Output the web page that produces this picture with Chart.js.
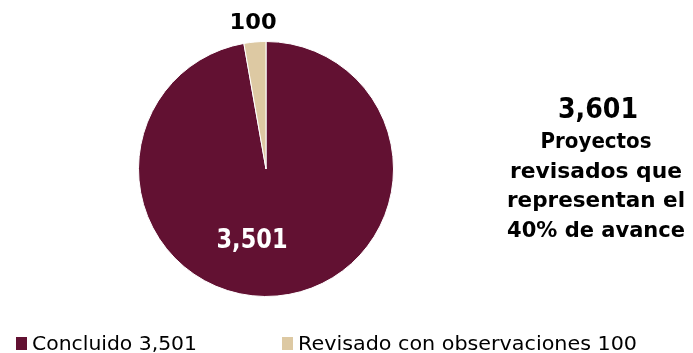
<!DOCTYPE html>
<html>
<head>
<meta charset="utf-8">
<script src="https://cdn.jsdelivr.net/npm/chart.js@4"></script>
<style>
  html, body { margin: 0; padding: 0; background: #fff; }
  #wrap { width: 693px; height: 353px; position: relative; }
</style>
</head>
<body>
<div id="wrap"><canvas id="pieChart" width="693" height="353"></canvas></div>
<script>
// data
const categories = ['Concluido', 'Revisado con observaciones'];
const values = [3501, 100];
const valueLabels = ['3,501', '100'];
const colors = ['#621132', '#DDC9A3'];
const totalLabel = '3,601';
const sideText = ['Proyectos', 'revisados que', 'representan el', '40% de avance'];

const FONT = '"DejaVu Sans", sans-serif';

// draw text stretched to a given width (the original face is wide)
function fitText(ctx, text, x, y, width, align) {
    const m = ctx.measureText(text).width;
    ctx.save();
    ctx.translate(x, y);
    ctx.scale(width / m, 1);
    ctx.textAlign = align || 'center';
    ctx.fillText(text, 0, 0);
    ctx.restore();
}

const annotate = {
    id: 'annotate',
    afterDraw(chart) {
        const ctx = chart.ctx;
        const arcs = chart.getDatasetMeta(0).data;
        ctx.save();
        ctx.textBaseline = 'alphabetic';

        // big slice label, inside
        const a0 = arcs[0];
        ctx.font = 'bold 26px ' + FONT;
        ctx.fillStyle = '#fff';
        fitText(ctx, valueLabels[0], a0.x - 14, a0.y + 79, 71);

        // small slice label, outside
        const a1 = arcs[1];
        const mid = (a1.startAngle + a1.endAngle) / 2;
        const rr = a1.outerRadius + 21;
        ctx.font = 'bold 22px ' + FONT;
        ctx.fillStyle = '#000';
        fitText(ctx, valueLabels[1], a1.x + Math.cos(mid) * rr, a1.y + Math.sin(mid) * rr + 8, 47);

        // side text
        ctx.font = 'bold 29px ' + FONT;
        fitText(ctx, totalLabel, 598, 118, 80);
        ctx.font = 'bold 21px ' + FONT;
        const sideW = [111, 172, 178, 178];
        sideText.forEach((t, i) => fitText(ctx, t, 596, 148 + i * 29.7, sideW[i]));

        // legend
        ctx.font = '20px ' + FONT;
        const legX = [16, 282];
        const legW = [165, 339];
        categories.forEach((c, i) => {
            ctx.fillStyle = colors[i];
            ctx.fillRect(legX[i], 337, 11, 13);
            ctx.fillStyle = '#000';
            fitText(ctx, c + ' ' + valueLabels[i], legX[i] + 16, 350, legW[i], 'left');
        });
        ctx.restore();
    }
};

new Chart(document.getElementById('pieChart'), {
    type: 'pie',
    data: {
        labels: categories,
        datasets: [{
            data: values,
            backgroundColor: colors,
            borderColor: '#fff',
            borderWidth: 1
        }]
    },
    options: {
        responsive: false,
        animation: false,
        layout: { padding: { left: 138, right: 299, top: 41, bottom: 56 } },
        plugins: {
            legend: { display: false },
            tooltip: { enabled: false }
        }
    },
    plugins: [annotate]
});
</script>
</body>
</html>
